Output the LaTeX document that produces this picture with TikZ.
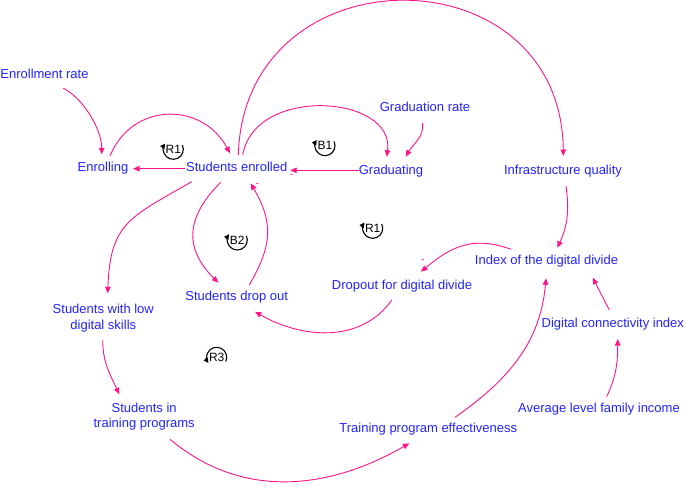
\documentclass[tikz,border=0pt]{standalone}
\usepackage{fontspec}
\setmainfont{Liberation Sans}
\usetikzlibrary{arrows.meta,calc}
\definecolor{txtblue}{RGB}{35,35,255}
\definecolor{linkpink}{RGB}{255,20,135}
\begin{document}
\begin{tikzpicture}[x=1pt,y=1pt,
  var/.style={text=txtblue, font=\fontsize{13}{15.4}\selectfont, inner sep=1pt, anchor=base},
  var2/.style={text=txtblue, font=\fontsize{13}{15.4}\selectfont, inner sep=1pt, align=center, anchor=center},
  link/.style={draw=linkpink, line width=0.9pt, -{Triangle[length=6.5pt,width=5.5pt]}},
  sign/.style={text=linkpink, font=\fontsize{10}{10}\selectfont, inner sep=0pt},
  loopsym/.style={draw=black, line width=1.1pt, -{Triangle[length=5pt,width=5pt]}},
  looplab/.style={text=black, font=\fontsize{12}{12}\selectfont, inner sep=0pt}]
\useasboundingbox (0,0) rectangle (685,-486);

% variables
\node[var] (er)  at (44.5,-78.3)  {Enrollment rate};
\node[var] (enr) at (103,-171.3)  {Enrolling};
\node[var] (se)  at (236.7,-171.3) {Students enrolled};
\node[var] (gr)  at (425,-111.6)  {Graduation rate};
\node[var] (grd) at (391,-175)    {Graduating};
\node[var] (iq)  at (563,-175)    {Infrastructure quality};
\node[var] (idd) at (546.5,-265)  {Index of the digital divide};
\node[var] (dfd) at (402,-289.3)  {Dropout for digital divide};
\node[var] (dci) at (612.8,-327)  {Digital connectivity index};
\node[var] (afi) at (599,-412.6)  {Average level family income};
\node[var] (tpe) at (428.3,-432.6) {Training program effectiveness};
\node[var] (sdo) at (236.7,-301)  {Students drop out};
\node[var2] (slow) at (103.3,-318) {Students with low\\digital skills};
\node[var2] (stp)  at (144.2,-416.6) {Students in\\training programs};

% connectors
\draw[link] ($(er.base)+(18.8,-10)$) .. controls +(20,-10) and +(0,25) .. ($(enr.base)+(-1.3,17)$);
\draw[link] ($(enr.base)+(7,15.3)$) .. controls +(22,54) and +(-28,52) .. ($(se.base)+(-6.7,18)$);
\draw[link] ($(se.base)+(-52,2.6)$) -- ($(enr.base)+(30,2.6)$);
\draw[link] ($(grd.base)+(-32.5,4.7)$) -- ($(se.base)+(53.5,1)$);
\node[sign] (m1) at ($(se.base)+(55,-4.5)$) {-};
\draw[link] ($(se.base)+(6,16.3)$) .. controls +(12.3,70) and +(8.3,61.7) .. ($(grd.base)+(-4.3,18.3)$);
\draw[link] ($(gr.base)+(-2.3,-11.1)$) to[out=-85,in=60] ($(grd.base)+(14.7,18.3)$);
\draw[link] ($(se.base)+(1.6,16.3)$) .. controls +(6,206) and +(-2,206) .. ($(iq.base)+(0.3,19)$);
\draw[link] ($(iq.base)+(3,-11)$) to[out=-82,in=65] ($(idd.base)+(10.8,17.3)$);
\draw[link] ($(idd.base)+(-35.5,15.7)$) to[out=160,in=40,looseness=1.1] ($(dfd.base)+(19,17.6)$);
\node[sign] (m2) at ($(dfd.base)+(20.7,28)$) {-};
\draw[link] ($(dfd.base)+(-10.3,-10.7)$) to[out=-125,in=-30] ($(sdo.base)+(18.3,-10.7)$);
\draw[link] ($(se.base)+(-16,-11)$) to[out=-135,in=135,looseness=1.25] ($(sdo.base)+(-18.4,18.3)$);
\draw[link] ($(sdo.base)+(12.6,16)$) to[out=60,in=-60,looseness=1.15] ($(se.base)+(14,-12)$);
\node[sign] (m3) at ($(se.base)+(20.5,-13.5)$) {-};
\draw[link] ($(se.base)+(-45,-10.4)$) to[out=-150,in=88,looseness=1.3] ($(slow)+(4.4,24.7)$);
\draw[link] ($(slow)+(-0.6,-22)$) to[out=-90,in=115] ($(stp)+(-24.9,22.3)$);
\draw[link] ($(stp)+(25.8,-22.7)$) to[out=-40,in=-150] ($(tpe.base)+(-19,-10.7)$);
\draw[link] ($(tpe.base)+(26.7,15.3)$) to[out=35,in=-95] ($(idd.base)+(-0.5,-13.3)$);
\draw[link] ($(dci.base)+(-3.5,17)$) -- ($(idd.base)+(46.2,-12.7)$);
\draw[link] ($(afi.base)+(7.7,15.9)$) to[out=65,in=-90] ($(dci.base)+(4.9,-12)$);

% loop markers
\node[looplab] (lr1) at (173.3,-149.3) {R1};
\draw[loopsym] ($(lr1)+(25:10)$) arc[start angle=25, end angle=-215, radius=10];
\node[looplab] (lb1) at (325,-145.7) {B1};
\draw[loopsym] ($(lb1)+(25:10)$) arc[start angle=25, end angle=-215, radius=10];
\node[looplab] (lb2) at (237.3,-240) {B2};
\draw[loopsym] ($(lb2)+(25:10)$) arc[start angle=25, end angle=-215, radius=10];
\node[looplab] (lr1b) at (372.7,-228.3) {R1};
\draw[loopsym] ($(lr1b)+(25:10)$) arc[start angle=25, end angle=-215, radius=10];
\node[looplab] (lr3) at (216.7,-357.3) {R3};
\draw[loopsym] ($(lr3)+(-25:10)$) arc[start angle=-25, end angle=215, radius=10];
\end{tikzpicture}
\end{document}
